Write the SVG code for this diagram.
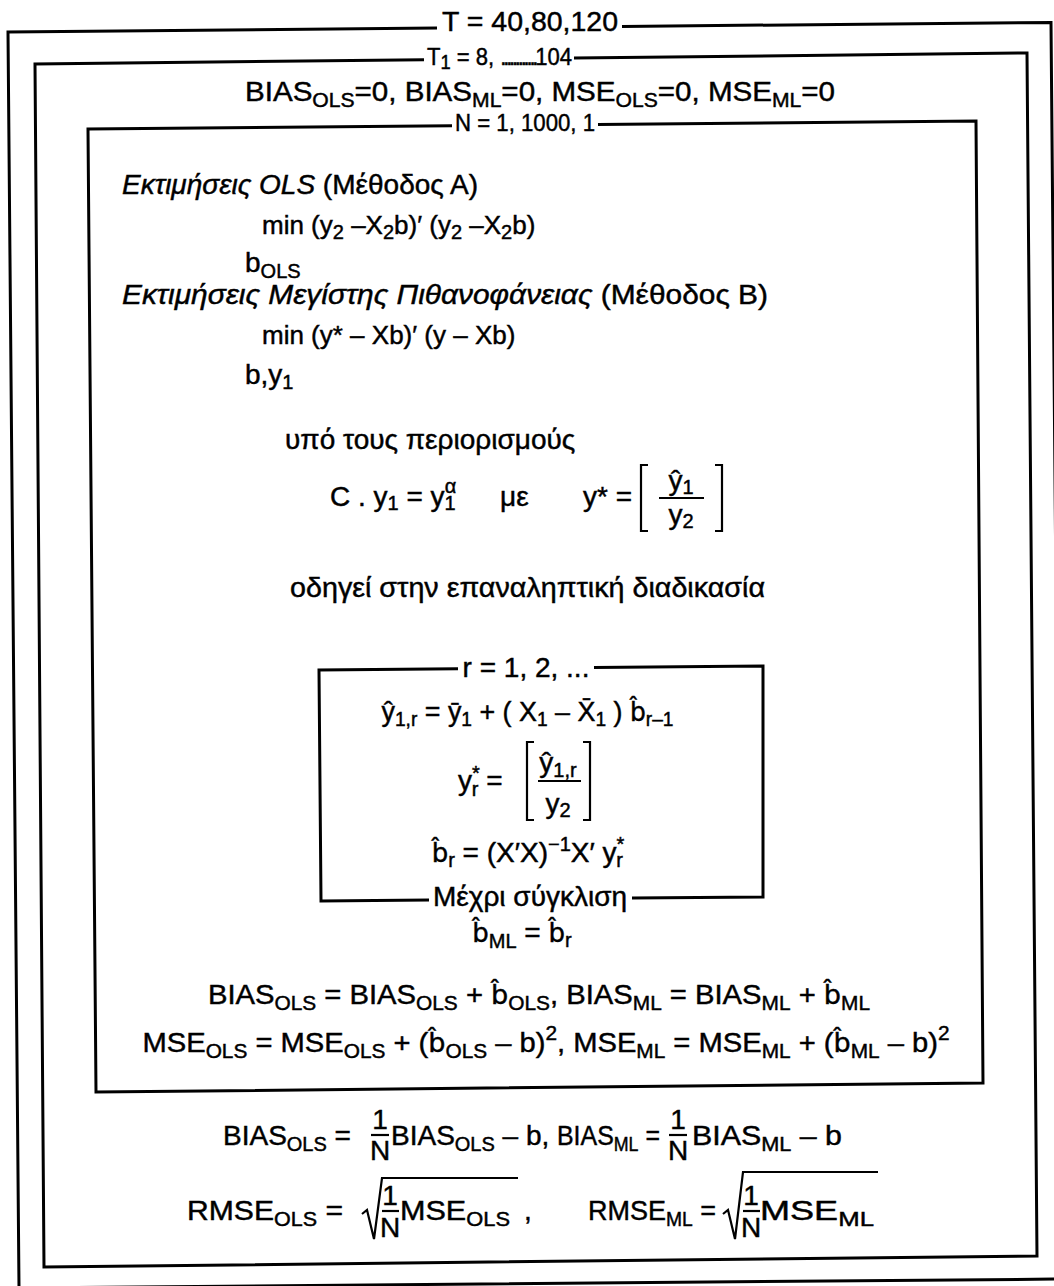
<svg xmlns="http://www.w3.org/2000/svg" width="1054" height="1286" viewBox="0 0 1054 1286">
<style>
text{font-family:"Liberation Sans",Arial,Helvetica,sans-serif;font-size:28px;fill:#000;stroke:#000;stroke-width:0.45px}
.it{font-style:italic}
.sb{font-size:20px}
.lb{font-size:24px}
.md{font-size:26px}
.dj{font-family:"DejaVu Sans",sans-serif;font-size:26px}
.bx{fill:none;stroke:#000;stroke-width:3;stroke-linejoin:miter}
.ln{stroke:#000;stroke-width:2.2;fill:none}
</style>
<rect width="1054" height="1286" fill="#fff"/>
<g id="connectors">
<polyline id="outer-frame" class="bx" points="622,26.4 1051,22.5 1062,1279 19,1288 8,32 437,28.1"/>
<polyline id="t1-frame" class="bx" points="574,58 1027,53 1037,1256 44,1267 35,64 424,59.7"/>
<polyline id="n-frame" class="bx" points="598,124.4 976,121 983,1083 96,1092 88,129 452,125.7"/>
<polyline id="r-frame-a" class="bx" points="594,667.5 763,666 763,897 632,898"/>
<polyline id="r-frame-b" class="bx" points="429,900 321,901 319,670 458,668.7"/>
</g>
<g id="loop-T"><text x="530" y="31" text-anchor="middle" textLength="176" lengthAdjust="spacingAndGlyphs">T = 40,80,120</text></g>
<g id="loop-T1"><text class="lb" x="427" y="65" textLength="145" lengthAdjust="spacingAndGlyphs">T<tspan class="sb" dy="4">1</tspan><tspan dy="-4"> = 8, </tspan><tspan style="letter-spacing:-3.5px">............</tspan><tspan>104</tspan></text></g>
<g id="init"><text x="540" y="101" text-anchor="middle" textLength="590" lengthAdjust="spacingAndGlyphs">BIAS<tspan class="sb" dy="6">OLS</tspan><tspan dy="-6">=0, BIAS</tspan><tspan class="sb" dy="6">ML</tspan><tspan dy="-6">=0, MSE</tspan><tspan class="sb" dy="6">OLS</tspan><tspan dy="-6">=0, MSE</tspan><tspan class="sb" dy="6">ML</tspan><tspan dy="-6">=0</tspan></text></g>
<g id="loop-N"><text class="lb" x="525" y="131" text-anchor="middle" textLength="140" lengthAdjust="spacingAndGlyphs">N = 1, 1000, 1</text></g>
<g id="method-a">
<text x="122" y="194"><tspan class="it">Εκτιμήσεις OLS</tspan> (Μέθοδος Α)</text>
<text class="md" x="262" y="234">min (y<tspan class="sb" dy="5">2</tspan><tspan dy="-5"> –X</tspan><tspan class="sb" dy="5">2</tspan><tspan dy="-5">b)′ (y</tspan><tspan class="sb" dy="5">2</tspan><tspan dy="-5"> –X</tspan><tspan class="sb" dy="5">2</tspan><tspan dy="-5">b)</tspan></text>
<text x="245" y="272">b<tspan class="sb" dy="6">OLS</tspan></text>
</g>
<g id="method-b">
<text x="122" y="304" textLength="646" lengthAdjust="spacingAndGlyphs"><tspan class="it">Εκτιμήσεις Μεγίστης Πιθανοφάνειας</tspan> (Μέθοδος Β)</text>
<text class="md" x="262" y="344">min (y* – Xb)′  (y – Xb)</text>
<text x="245" y="384">b,y<tspan class="sb" dy="5">1</tspan></text>
<text x="285" y="449">υπό τους περιορισμούς</text>
<text x="330" y="506">C . y<tspan class="sb" dy="4">1</tspan><tspan dy="-4"> =  y</tspan><tspan class="sb" dy="4">1</tspan><tspan class="sb" dx="-11" dy="-17">α</tspan></text>
<text x="500" y="506">με</text>
<text x="632" y="506" text-anchor="end">y* =</text>
<polyline class="ln" points="648,465 641,465 641,531 648,531"/>
<polyline class="ln" points="715,465 722,465 722,531 715,531"/>
<text x="681" y="490" text-anchor="middle">ŷ<tspan class="sb" dy="4">1</tspan></text>
<line class="ln" x1="659" y1="498" x2="704" y2="498"/>
<text x="681" y="524" text-anchor="middle">y<tspan class="sb" dy="4">2</tspan></text>
<text x="527.5" y="597" text-anchor="middle" textLength="475" lengthAdjust="spacingAndGlyphs">οδηγεί στην επαναληπτική διαδικασία</text>
</g>
<g id="loop-r">
<text x="526" y="677" text-anchor="middle">r = 1, 2, ...</text>
<text x="527.5" y="721" text-anchor="middle" textLength="292" lengthAdjust="spacingAndGlyphs">ŷ<tspan class="sb" dy="5">1,r</tspan><tspan dy="-5"> =  ȳ</tspan><tspan class="sb" dy="5">1</tspan><tspan dy="-5"> + ( X</tspan><tspan class="sb" dy="5">1</tspan><tspan dy="-5"> – X̄</tspan><tspan class="sb" dy="5">1</tspan><tspan dy="-5"> )  </tspan><tspan class="dj">b̂</tspan><tspan class="sb" dy="5">r–1</tspan></text>
<text x="458" y="790">y<tspan class="sb" dy="-10">*</tspan><tspan class="sb" dx="-8" dy="16">r</tspan><tspan dy="-6"> =</tspan></text>
<polyline class="ln" points="534,742 527,742 527,820 534,820"/>
<polyline class="ln" points="583,742 590,742 590,820 583,820"/>
<text x="558" y="772" text-anchor="middle">ŷ<tspan class="sb" dy="5">1,r</tspan></text>
<line class="ln" x1="538" y1="781" x2="581" y2="781"/>
<text x="558" y="813" text-anchor="middle">y<tspan class="sb" dy="4">2</tspan></text>
<text x="528" y="862" text-anchor="middle"><tspan class="dj">b̂</tspan><tspan class="sb" dy="5">r</tspan><tspan dy="-5"> = (X′X)</tspan><tspan class="sb" dy="-11">−1</tspan><tspan dy="11">X′ y</tspan><tspan class="sb" dy="-11">*</tspan><tspan class="sb" dx="-8" dy="16">r</tspan></text>
<text x="530" y="906" text-anchor="middle">Μέχρι σύγκλιση</text>
</g>
<g id="update">
<text x="522" y="942" text-anchor="middle"><tspan class="dj">b̂</tspan><tspan class="sb" dy="6">ML</tspan><tspan dy="-6"> = </tspan><tspan class="dj">b̂</tspan><tspan class="sb" dy="5">r</tspan></text>
<text x="539" y="1004" text-anchor="middle" textLength="662" lengthAdjust="spacingAndGlyphs">BIAS<tspan class="sb" dy="6">OLS</tspan><tspan dy="-6"> = BIAS</tspan><tspan class="sb" dy="6">OLS</tspan><tspan dy="-6"> + </tspan><tspan class="dj">b̂</tspan><tspan class="sb" dy="6">OLS</tspan><tspan dy="-6">, BIAS</tspan><tspan class="sb" dy="6">ML</tspan><tspan dy="-6"> = BIAS</tspan><tspan class="sb" dy="6">ML</tspan><tspan dy="-6"> + </tspan><tspan class="dj">b̂</tspan><tspan class="sb" dy="6">ML</tspan></text>
<text x="546" y="1052" text-anchor="middle" textLength="807" lengthAdjust="spacingAndGlyphs">MSE<tspan class="sb" dy="6">OLS</tspan><tspan dy="-6"> = MSE</tspan><tspan class="sb" dy="6">OLS</tspan><tspan dy="-6"> + (</tspan><tspan class="dj">b̂</tspan><tspan class="sb" dy="6">OLS</tspan><tspan dy="-6"> – b)</tspan><tspan class="sb" dy="-12">2</tspan><tspan dy="12">, MSE</tspan><tspan class="sb" dy="6">ML</tspan><tspan dy="-6"> = MSE</tspan><tspan class="sb" dy="6">ML</tspan><tspan dy="-6"> + (</tspan><tspan class="dj">b̂</tspan><tspan class="sb" dy="6">ML</tspan><tspan dy="-6"> – b)</tspan><tspan class="sb" dy="-12">2</tspan></text>
</g>
<g id="results">
<text x="223" y="1145">BIAS<tspan class="sb" dy="6">OLS</tspan><tspan dy="-6"> =</tspan></text>
<text x="380" y="1129" text-anchor="middle">1</text>
<line class="ln" x1="371" y1="1135" x2="389" y2="1135"/>
<text x="380" y="1160" text-anchor="middle">N</text>
<text x="391" y="1145">BIAS<tspan class="sb" dy="6">OLS</tspan><tspan dy="-6"> – b,</tspan></text>
<text x="557" y="1145" textLength="103" lengthAdjust="spacingAndGlyphs">BIAS<tspan class="sb" dy="6">ML</tspan><tspan dy="-6"> =</tspan></text>
<text x="678" y="1129" text-anchor="middle">1</text>
<line class="ln" x1="669" y1="1135" x2="687" y2="1135"/>
<text x="678" y="1160" text-anchor="middle">N</text>
<text x="692" y="1145" textLength="150" lengthAdjust="spacingAndGlyphs">BIAS<tspan class="sb" dy="6">ML</tspan><tspan dy="-6"> – b</tspan></text>
<text x="187" y="1220" textLength="156" lengthAdjust="spacingAndGlyphs">RMSE<tspan class="sb" dy="6">OLS</tspan><tspan dy="-6"> =</tspan></text>
<polyline class="ln" points="362,1214 367,1210 374,1239 382,1178 518,1178"/>
<text x="390" y="1205" text-anchor="middle">1</text>
<line class="ln" x1="382" y1="1211" x2="399" y2="1211"/>
<text x="390" y="1237" text-anchor="middle">N</text>
<text x="400" y="1220" textLength="110" lengthAdjust="spacingAndGlyphs">MSE<tspan class="sb" dy="6">OLS</tspan></text>
<text x="524" y="1220">,</text>
<text x="588" y="1220" textLength="128" lengthAdjust="spacingAndGlyphs">RMSE<tspan class="sb" dy="6">ML</tspan><tspan dy="-6"> =</tspan></text>
<polyline class="ln" points="723,1214 728,1210 735,1239 743,1172 878,1172"/>
<text x="751" y="1205" text-anchor="middle">1</text>
<line class="ln" x1="743" y1="1211" x2="760" y2="1211"/>
<text x="751" y="1237" text-anchor="middle">N</text>
<text x="760" y="1220" textLength="114" lengthAdjust="spacingAndGlyphs">MSE<tspan class="sb" dy="6">ML</tspan></text>
</g>
</svg>
